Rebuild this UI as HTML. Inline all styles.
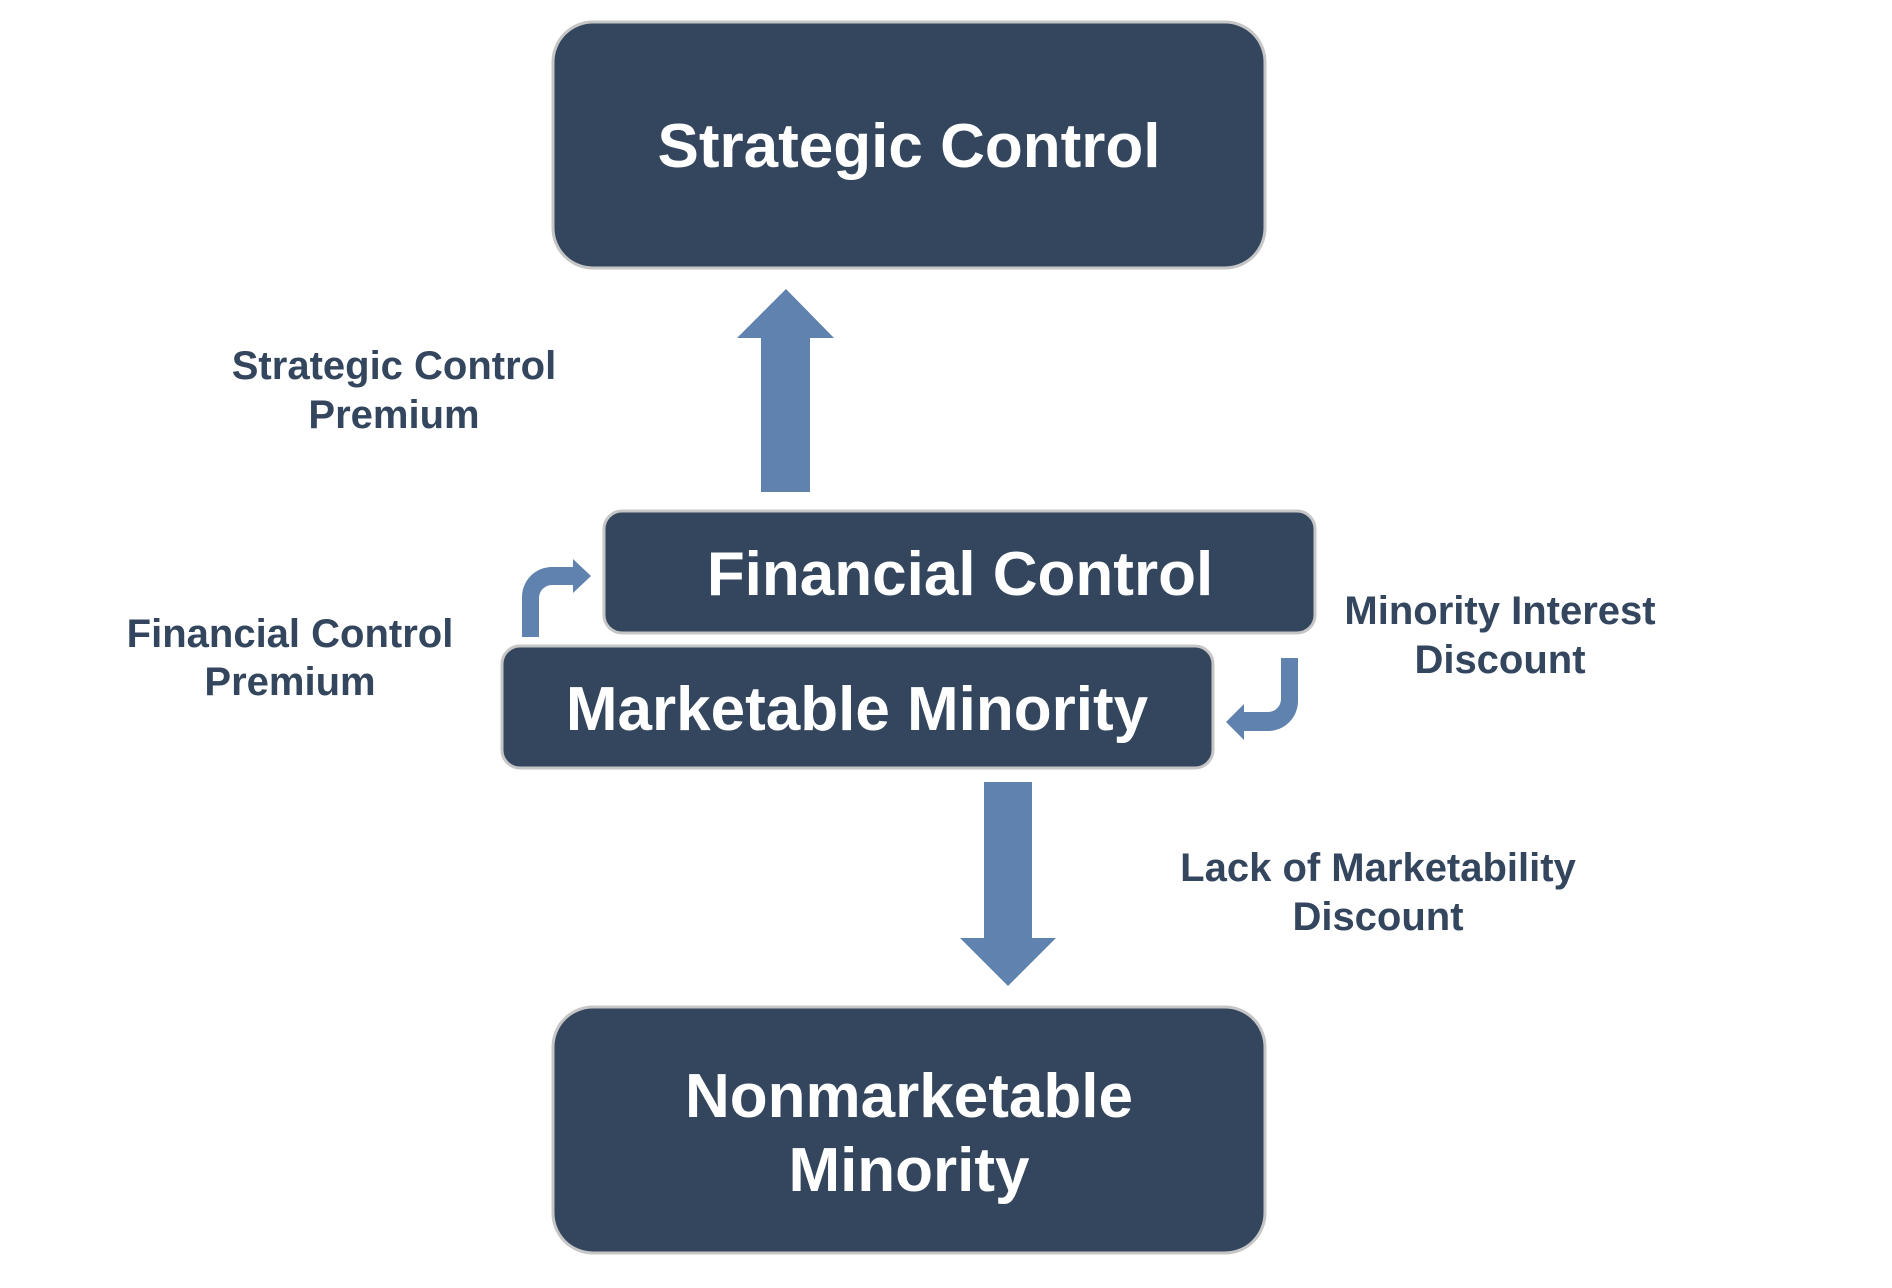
<!DOCTYPE html>
<html>
<head>
<meta charset="utf-8">
<style>
  html, body { margin: 0; padding: 0; background: #ffffff; }
  body { width: 1892px; height: 1288px; overflow: hidden; }
  svg { display: block; }
  .bt { font-family: "Liberation Sans", Arial, sans-serif; font-weight: bold; font-size: 62px; fill: #ffffff; }
  .lb { font-family: "Liberation Sans", Arial, sans-serif; font-weight: bold; font-size: 40px; fill: #33465e; }
</style>
</head>
<body>
<svg width="1892" height="1288" viewBox="0 0 1892 1288" xmlns="http://www.w3.org/2000/svg">
  <!-- Strategic Control box -->
  <rect x="553" y="22" width="712" height="246" rx="40" ry="40" fill="#33465e" stroke="#c6c6c6" stroke-width="3"/>
  <text class="bt" x="909" y="167" text-anchor="middle">Strategic Control</text>

  <!-- Up arrow -->
  <polygon points="786,289 834,338 810,338 810,492 761,492 761,338 737,338" fill="#5f83ae"/>

  <!-- Financial Control box -->
  <rect x="604" y="511" width="711" height="122" rx="18" ry="18" fill="#33465e" stroke="#c6c6c6" stroke-width="3"/>
  <text class="bt" x="960" y="595" text-anchor="middle">Financial Control</text>

  <!-- Marketable Minority box -->
  <rect x="502" y="646" width="711" height="122" rx="18" ry="18" fill="#33465e" stroke="#c6c6c6" stroke-width="3"/>
  <text class="bt" x="857" y="730" text-anchor="middle">Marketable Minority</text>

  <!-- Left bent arrow (up then right) -->
  <path d="M522,637 L522,597 A30,30 0 0 1 552,567 L573,567 L573,559 L591,576 L573,593 L573,585 L552,585 A13,13 0 0 0 539,598 L539,637 Z" fill="#5f83ae"/>

  <!-- Right bent arrow (down then left) -->
  <path d="M1281,658 L1298,658 L1298,701 A30,30 0 0 1 1268,731 L1244,731 L1244,740 L1226,722 L1244,704 L1244,712 L1268,712 A13,13 0 0 0 1281,699 Z" fill="#5f83ae"/>

  <!-- Down arrow -->
  <polygon points="984,782 1032,782 1032,938 1056,938 1008,986 960,938 984,938" fill="#5f83ae"/>

  <!-- Nonmarketable Minority box -->
  <rect x="553" y="1007" width="712" height="246" rx="40" ry="40" fill="#33465e" stroke="#c6c6c6" stroke-width="3"/>
  <text class="bt" x="909" y="1117" text-anchor="middle">Nonmarketable</text>
  <text class="bt" x="909" y="1191" text-anchor="middle">Minority</text>

  <!-- Labels -->
  <text class="lb" x="394" y="379" text-anchor="middle">Strategic Control</text>
  <text class="lb" x="394" y="428" text-anchor="middle">Premium</text>

  <text class="lb" x="290" y="647" text-anchor="middle">Financial Control</text>
  <text class="lb" x="290" y="695" text-anchor="middle">Premium</text>

  <text class="lb" x="1500" y="624" text-anchor="middle">Minority Interest</text>
  <text class="lb" x="1500" y="673" text-anchor="middle">Discount</text>

  <text class="lb" x="1378" y="881" text-anchor="middle">Lack of Marketability</text>
  <text class="lb" x="1378" y="930" text-anchor="middle">Discount</text>
</svg>
</body>
</html>
